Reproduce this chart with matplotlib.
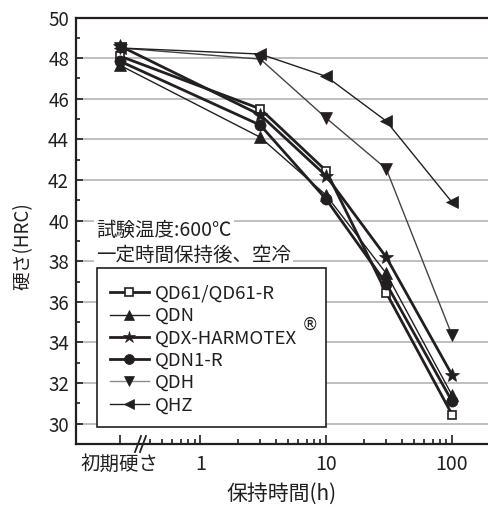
import numpy as np
import matplotlib.pyplot as plt
from matplotlib.lines import Line2D
from matplotlib.patches import Rectangle

plt.rcParams['font.family'] = ['Noto Sans CJK JP', 'DejaVu Sans']

# data: hardness (HRC) after holding at 600C
hours = [0.23, 3, 10, 30, 100]   # first point = initial hardness
qd61 = [48.1, 45.5, 42.45, 36.45, 30.45]
qdn = [47.65, 44.1, 41.25, 37.4, 31.4]
qdx = [48.6, 45.2, 42.2, 38.2, 32.4]
qdn1 = [47.85, 44.7, 41.05, 36.9, 31.1]
qdh = [48.5, 47.95, 45.05, 42.55, 34.35]
qhz = [48.5, 48.2, 47.1, 44.9, 40.9]

names = ['QD61/QD61-R', 'QDN', 'QDX-HARMOTEX', 'QDN1-R', 'QDH', 'QHZ']
series = [qd61, qdn, qdx, qdn1, qdh, qhz]
markers = ['s', '^', '*', 'o', 'v', '<']
msizes = [6, 8.5, 10, 8, 8.5, 8.5]
lwidths = [2.0, 1.0, 2.0, 2.0, 1.0, 1.0]
ink = '#231f20'
lcolors = [ink, ink, ink, ink, '#444444', ink]
legcolors = [ink, ink, ink, ink, '#8c8c8c', ink]
mfaces = ['white', ink, ink, ink, ink, ink]

xticks = [0.23, 1, 10, 100]
xticklabels = ['初期硬さ', '1', '10', '100']
xminor = [0.4, 0.5, 0.6, 0.7, 0.8, 0.9] + list(range(2, 10)) + list(range(20, 100, 10))

fig = plt.figure(figsize=(4.88, 5.07), dpi=100)
ax = fig.add_axes([76 / 488, 1 - 444 / 507, 1 - 76 / 488, (444 - 17.5) / 507])

for s, mk, ms, lw, lc, mf in zip(series, markers, msizes, lwidths, lcolors, mfaces):
    ax.plot(hours, s, color=lc, lw=lw, marker=mk, ms=ms, mfc=mf,
            mec=ink, mew=1.2 if mk == 's' else 0.5, zorder=3)

ax.set_xscale('log')
ax.set_xlim(0.103, 193)
ax.set_ylim(29, 50)
ax.set_xticks(xticks, xticklabels)
ax.set_xticks(xminor, minor=True)
ax.xaxis.set_minor_formatter(plt.NullFormatter())
ax.set_yticks(np.arange(30, 51, 2))
ax.set_yticks(np.arange(29, 50, 1), minor=True)
ax.yaxis.grid(True, which='major', color='#b4b4b4', lw=1.2)
ax.set_axisbelow(True)

ax.tick_params(axis='both', which='both', direction='in', colors=ink, width=1.2)
ax.tick_params(axis='y', which='major', length=5, pad=5, labelsize=13.5)
ax.tick_params(axis='y', which='minor', length=3)
ax.tick_params(axis='x', which='major', length=6.5, pad=7, labelsize=14)
ax.tick_params(axis='x', which='minor', length=3.5)
for side in ['left', 'bottom', 'top']:
    ax.spines[side].set_color(ink)
    ax.spines[side].set_linewidth(1.6)
ax.spines['right'].set_visible(False)

ax.set_ylabel('硬さ(HRC)', fontsize=13.5, color=ink)
ax.yaxis.set_label_coords(-0.102, 0.464)
ax.set_xlabel('保持時間(h)', fontsize=15, color=ink, labelpad=6)

# axis break marks
for dx in (0, 5):
    fig.add_artist(Line2D([(135 + dx) / 488, (141 + dx) / 488],
                          [1 - 452 / 507, 1 - 436 / 507],
                          transform=fig.transFigure, color=ink, lw=1.3))

# test condition note
note_kw = dict(fontsize=14, color=ink, ha='left', va='center',
               bbox=dict(facecolor='white', edgecolor='none', pad=1.5))
fig.text(96 / 488, 1 - 230 / 507, '試験温度:600℃', **note_kw)
fig.text(96 / 488, 1 - 255 / 507, '一定時間保持後、空冷', **note_kw)

# legend box drawn separately so its size matches the original
fig.add_artist(Rectangle((97 / 488, 1 - 427 / 507), (326 - 97) / 488, (427 - 268) / 507,
                         transform=fig.transFigure, facecolor='white',
                         edgecolor=ink, lw=1.2, zorder=4))
handles = [Line2D([], [], color=lc, lw=lw, marker=mk, ms=ms * 0.9, mfc=mf,
                  mec=ink, mew=1.2 if mk == 's' else 0.5)
           for mk, ms, lw, lc, mf in zip(markers, msizes, lwidths, legcolors, mfaces)]
leg = fig.legend(handles, names, loc='upper left',
                 bbox_to_anchor=(95 / 488, 1 - 270 / 507), fontsize=13.4,
                 frameon=False, handlelength=2.1, handletextpad=0.3,
                 labelspacing=0.23, borderpad=0.8, borderaxespad=0)
leg.set_zorder(5)
for t in leg.get_texts():
    t.set_color(ink)
fig.text(310 / 488, 1 - 325 / 507, '®', fontsize=12, color=ink,
         ha='center', va='center', family=['DejaVu Sans'], zorder=10)

fig.savefig('out.png', dpi=100)
